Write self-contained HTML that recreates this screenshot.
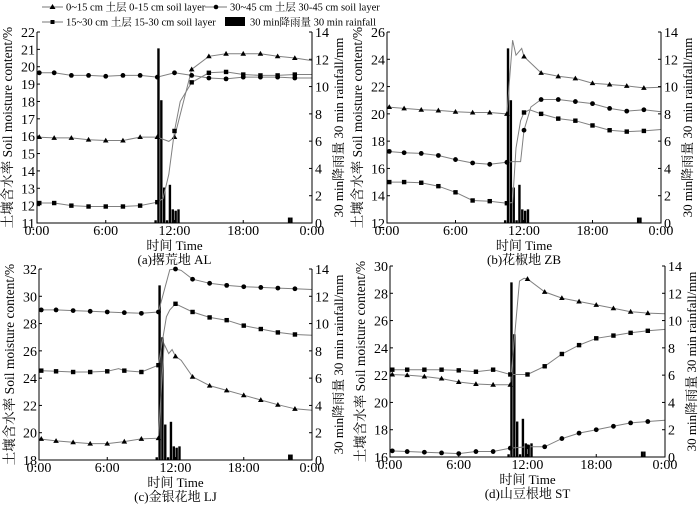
<!DOCTYPE html>
<html><head><meta charset="utf-8">
<style>
html,body{margin:0;padding:0;background:#fff;}
svg, svg text{font-family:"Liberation Serif","Noto Serif CJK SC","Times New Roman",serif !important;}
</style></head>
<body>
<svg id="chart" width="700" height="506" viewBox="0 0 700 506" xmlns="http://www.w3.org/2000/svg" font-family="Liberation Serif, Noto Serif CJK SC, serif">
  <g font-size="10.5" fill="#000">
    <g>
      <line x1="42" y1="7" x2="63" y2="7" stroke="#777" stroke-width="1"/>
      <path d="M52.5,4 L55.5,9 L49.5,9 Z" fill="#000"/>
      <text x="66" y="10.5">0~15 cm 土层 0-15 cm soil layer</text>
    </g>
    <g>
      <line x1="205" y1="7" x2="227" y2="7" stroke="#777" stroke-width="1"/>
      <circle cx="216" cy="7" r="2.3" fill="#000"/>
      <text x="230" y="10.5">30~45 cm 土层 30-45 cm soil layer</text>
    </g>
    <g>
      <line x1="42" y1="22" x2="63" y2="22" stroke="#777" stroke-width="1"/>
      <rect x="50.5" y="20" width="4" height="4" fill="#000"/>
      <text x="66" y="25.5">15~30 cm 土层 15-30 cm soil layer</text>
    </g>
    <g>
      <rect x="225" y="17" width="20" height="9" fill="#000"/>
      <text x="250" y="25.5">30 min降雨量  30 min rainfall</text>
    </g>
  </g>
  <g id="panels"></g>
</svg>
<script>
// ---- shared data ----
const hours = [0,1.5,3,4.5,6,7.5,9,10.5,12,13.5,15,16.5,18,19.5,21,22.5,24];
const rainTimes = [10.35,10.6,10.85,11.1,11.35,11.6,11.85,12.1,12.35,22.0,22.2];
const rainValues = [0.2,12.8,9.0,2.6,0.2,2.8,1.0,0.9,1.0,0.4,0.4];
const rainTicks = [0,2,4,6,8,10,12,14];
const xTickLabels = ["0:00","6:00","12:00","18:00","0:00"];
const xTickHours = [0,6,12,18,24];

// ---- panel (a) AL ----
const aTimes15 = [0,1.5,3,4.5,6,7.5,9,10.5,11.5,12,13.5,15,16.5,18,19.5,21,22.5,24];
const aVals15  = [15.95,15.9,15.9,15.8,15.75,15.75,15.95,15.95,15.7,15.95,19.85,20.6,20.75,20.75,20.75,20.6,20.5,20.35];
const aTimes45 = [0,1.5,3,4.5,6,7.5,9,10.5,12,13.5,15,16.5,18,19.5,21,22.5,24];
const aVals45  = [19.65,19.65,19.5,19.5,19.45,19.5,19.5,19.4,19.65,19.5,19.35,19.3,19.4,19.4,19.4,19.35,19.35];
const aTimes30 = [0,1.5,3,4.5,6,7.5,9,10.5,11,11.5,12,12.5,13.5,15,16.5,18,19.5,21,22.5,24];
const aVals30  = [12.15,12.15,12.0,11.95,11.95,11.95,12.0,12.2,12.4,13.8,16.3,18.0,19.1,19.65,19.7,19.55,19.5,19.5,19.55,19.55];
const aYTicks = [11,12,13,14,15,16,17,18,19,20,21,22];

// ---- panel (b) ZB ----
const bTimes15 = [0,1.5,3,4.5,6,7.5,9,10.5,11,11.3,11.8,12,13.5,15,16.5,18,19.5,21,22.5,24];
const bVals15  = [20.5,20.4,20.3,20.25,20.15,20.1,20.1,20.0,25.4,24.3,24.8,24.2,23.0,22.75,22.6,22.25,22.15,22.05,21.9,21.95];
const bTimes45 = [0,1.5,3,4.5,6,7.5,9,10.5,11,11.7,12,12.6,13.5,15,16.5,18,19.5,21,22.5,24];
const bVals45  = [17.25,17.15,17.1,16.95,16.65,16.4,16.3,16.45,16.5,16.5,18.8,20.5,21.05,21.05,20.9,20.75,20.4,20.2,20.3,20.15];
const bTimes30 = [0,1.5,3,4.5,6,7.5,9,10.5,11,11.3,11.7,12,12.5,13.5,15,16.5,18,19.5,21,22.5,24];
const bVals30  = [15.0,15.0,14.95,14.7,14.25,13.65,13.6,13.45,13.5,17.5,19.5,20.1,20.3,20.0,19.65,19.5,19.15,18.8,18.7,18.75,18.85];
const bYTicks = [12,14,16,18,20,22,24,26];

// ---- panel (c) LJ ----
const cTimes15 = [0,1.5,3,4.5,6,7.5,9,10.5,11,11.4,11.7,12,12.5,13.5,15,16.5,18,19.5,21,22.5,24];
const cVals15  = [19.55,19.4,19.3,19.2,19.2,19.35,19.55,19.6,26.5,25.8,26.1,25.6,25.3,24.1,23.45,23.1,22.75,22.4,22.05,21.75,21.65];
const cTimes45 = [0,1.5,3,4.5,6,7.5,9,10.5,11.5,12,12.5,13.5,15,16.5,18,19.5,21,22.5,24];
const cVals45  = [29.0,29.0,28.95,28.9,28.85,28.8,28.75,28.85,31.95,32.0,31.9,31.25,30.95,30.8,30.7,30.65,30.6,30.55,30.5];
const cTimes30 = [0,1.5,3,4.5,6,7,7.5,9,10.5,11.2,11.5,12,13.5,15,16.5,18,19.5,21,22.5,24];
const cVals30  = [24.55,24.5,24.45,24.45,24.5,24.7,24.55,24.45,24.95,28.5,29.0,29.45,28.85,28.45,28.25,27.85,27.6,27.35,27.2,27.15];
const cYTicks = [18,20,22,24,26,28,30,32];

// ---- panel (d) ST ----
const dTimes15 = [0,1.5,3,4.5,6,7.5,9,10.5,11.3,11.7,12,13.5,15,16.5,18,19.5,21,22.5,24];
const dVals15  = [22.05,22.0,21.9,21.75,21.5,21.35,21.3,21.3,28.9,29.1,29.05,28.1,27.65,27.4,27.15,26.9,26.65,26.55,26.5];
const dTimes45 = [0,1.5,3,4.5,6,7.5,9,10.5,12,13.5,15,16.5,18,19.5,21,22.5,24];
const dVals45  = [16.45,16.4,16.35,16.3,16.25,16.4,16.4,16.65,16.75,16.75,17.35,17.75,18.0,18.25,18.5,18.6,18.7];
const dTimes30 = [0,1.5,3,4.5,6,7.5,9,10.5,12,13.5,15,16.5,18,19.5,21,22.5,24];
const dVals30  = [22.4,22.4,22.4,22.4,22.35,22.25,22.4,22.05,22.05,22.65,23.55,24.2,24.7,24.9,25.1,25.25,25.35];
const dYTicks = [16,18,20,22,24,26,28,30];

const panels = [
  {id:'a', L:37, R:312, T:32, B:223, yTicks:aYTicks, caption:'(a)撂荒地 AL',
   s15:[aTimes15,aVals15], s30:[aTimes30,aVals30], s45:[aTimes45,aVals45]},
  {id:'b', L:387, R:661, T:32, B:223, yTicks:bYTicks, caption:'(b)花椒地 ZB',
   s15:[bTimes15,bVals15], s30:[bTimes30,bVals30], s45:[bTimes45,bVals45]},
  {id:'c', L:39, R:312, T:269, B:460, yTicks:cYTicks, caption:'(c)金银花地 LJ',
   s15:[cTimes15,cVals15], s30:[cTimes30,cVals30], s45:[cTimes45,cVals45]},
  {id:'d', L:390, R:665, T:266, B:457, yTicks:dYTicks, caption:'(d)山豆根地 ST',
   s15:[dTimes15,dVals15], s30:[dTimes30,dVals30], s45:[dTimes45,dVals45]}
];

const NS = 'http://www.w3.org/2000/svg';
const FF = '"Liberation Serif","Noto Serif CJK SC",serif';
function mk(tag, attrs, parent){
  const e = document.createElementNS(NS, tag);
  for (const k in attrs) e.setAttribute(k, attrs[k]);
  if (tag === 'text') e.style.fontFamily = FF;
  parent.appendChild(e);
  return e;
}
const root = document.getElementById('panels');

panels.forEach(p => {
  const g = mk('g', {}, root);
  
  
  const y0 = p.yTicks[0], y1 = p.yTicks[p.yTicks.length-1];
  const xs = h => p.L + (h/24)*(p.R - p.L);
  const ys = v => p.B - (v - y0)/(y1 - y0)*(p.B - p.T);
  const rs = v => p.B - v/14*(p.B - p.T);

  const bars = mk('g', {}, g);
  
  
  rainTimes.forEach((t, i) => {
    const r = mk('rect', {x: xs(t) - 1.2, y: rs(rainValues[i]), width: 2.4, height: p.B - rs(rainValues[i]), fill: '#000'}, bars);
    
    
  });

  const series = [['soil-0-15cm', p.s15, 'tri'], ['soil-15-30cm', p.s30, 'sq'], ['soil-30-45cm', p.s45, 'circ']];
  series.forEach(([name, [ts, vs], mark]) => {
    const sg = mk('g', {}, g);
    
    
    const pts = ts.map((t, i) => xs(t).toFixed(1) + ',' + Math.max(p.T - 1, ys(vs[i])).toFixed(1)).join(' ');
    const pl = mk('polyline', {points: pts, fill: 'none', stroke: '#808080', 'stroke-width': 1}, sg);
    
    
    ts.forEach((t, i) => {
      if (t >= 24 || Math.abs(t/1.5 - Math.round(t/1.5)) > 1e-6) return;
      const cx = xs(t === 0 ? 0.2 : t), cy = ys(vs[i]);
      let m;
      if (mark === 'tri') m = mk('path', {d: `M${cx},${cy-2.8} L${cx+2.8},${cy+2} L${cx-2.8},${cy+2} Z`, fill: '#000'}, sg);
      else if (mark === 'sq') m = mk('rect', {x: cx-2.2, y: cy-2.2, width: 4.4, height: 4.4, fill: '#000'}, sg);
      else m = mk('circle', {cx: cx, cy: cy, r: 2.4, fill: '#000'}, sg);
      
      
    });
  });

  const ax = mk('g', {stroke: '#000', 'stroke-width': 1, fill: 'none'}, g);
  
  
  mk('path', {d: `M${p.L},${p.T} V${p.B} H${p.R} V${p.T}`}, ax);

  const lt = mk('g', {'font-size': 14, 'text-anchor': 'end'}, g);
  
  
  p.yTicks.forEach(v => {
    mk('line', {x1: p.L, x2: p.L + 3, y1: ys(v), y2: ys(v), stroke: '#000'}, lt);
    const t = mk('text', {x: p.L - 2, y: ys(v) + 5}, lt); t.textContent = v;
  });
  const rt = mk('g', {'font-size': 14, 'text-anchor': 'start'}, g);
  
  
  rainTicks.forEach(v => {
    mk('line', {x1: p.R - 3, x2: p.R, y1: rs(v), y2: rs(v), stroke: '#000'}, rt);
    const t = mk('text', {x: p.R + 3, y: rs(v) + 5}, rt); t.textContent = v;
  });
  const xt = mk('g', {'font-size': 14, 'text-anchor': 'middle'}, g);
  
  
  xTickHours.forEach((h, i) => {
    mk('line', {x1: xs(h), x2: xs(h), y1: p.B, y2: p.B - 3, stroke: '#000'}, xt);
    const t = mk('text', {x: xs(h), y: p.B + 12}, xt); t.textContent = xTickLabels[i];
  });

  const xl = mk('text', {x: (p.L + p.R)/2, y: p.B + 27, 'font-size': 13, 'text-anchor': 'middle'}, g);
  xl.textContent = '时间  Time';
  
  
  const cap = mk('text', {x: (p.L + p.R)/2, y: p.B + 41, 'font-size': 13, 'text-anchor': 'middle'}, g);
  cap.textContent = p.caption;
  
  
  const cy = (p.T + p.B)/2;
  const yl = mk('text', {x: 0, y: 0, 'font-size': 13.5, 'text-anchor': 'middle', transform: `translate(${p.L - 25},${cy}) rotate(-90)`}, g);
  yl.textContent = '土壤含水率 Soil moisture content/%';
  
  
  const yr = mk('text', {x: 0, y: 0, 'font-size': 13, 'text-anchor': 'middle', transform: `translate(${p.R + 31},${cy}) rotate(-90)`}, g);
  yr.textContent = '30 min降雨量  30 min rainfall/mm';
  
  
});
</script>
</body></html>
